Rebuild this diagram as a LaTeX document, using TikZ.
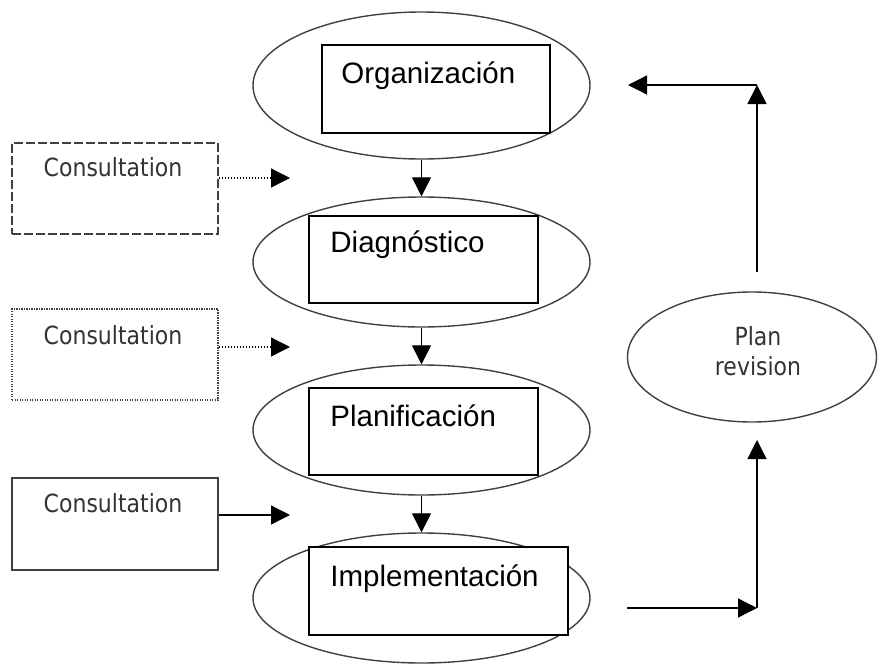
\documentclass[tikz,border=0pt]{standalone}
\usepackage{fontspec}
\setmainfont{Liberation Sans}
\newfontfamily\consfont{DejaVu Sans}[FakeStretch=0.88]
\usetikzlibrary{shapes.geometric,arrows.meta}
\definecolor{stroke}{HTML}{404040}
\definecolor{constext}{HTML}{333333}
\tikzset{
  stage/.style={ellipse, draw=stroke, line width=1.4pt, minimum width=337pt, inner sep=0pt},
  inbox/.style={rectangle, draw=black, line width=1.6pt, fill=white, inner sep=0pt},
  lbl/.style={anchor=base west, inner sep=0pt, font=\fontsize{29.5}{34}\selectfont},
  consbox/.style={rectangle, draw=stroke, line width=1.4pt, minimum width=206pt, inner sep=0pt},
  constxt/.style={anchor=base, inner sep=0pt, text=constext, font=\consfont\fontsize{25}{30}\selectfont},
  arr/.style={draw=black, line width=1.3pt, -{Triangle[length=19pt,width=19pt]}},
  dashbox/.style={dash pattern=on 9pt off 3pt},
  dotbox/.style={dash pattern=on 1.3pt off 1.2pt},
  dotline/.style={dash pattern=on 1.5pt off 1.5pt}
}
\begin{document}
\begin{tikzpicture}[x=1pt,y=1pt]
\useasboundingbox (0,0) rectangle (878,-664);
% stages
\node[stage, minimum height=147pt] (e1) at (421.5,-85.5) {};
\node[stage, minimum height=130pt] (e2) at (421.5,-262) {};
\node[stage, minimum height=130pt] (e3) at (421.5,-430) {};
\node[stage, minimum height=130pt] (e4) at (421.5,-598) {};
% inner boxes
\node[inbox, minimum width=228pt, minimum height=88pt] (r1) at (436,-89) {};
\node[inbox, minimum width=229pt, minimum height=87pt] (r2) at (423.5,-259.5) {};
\node[inbox, minimum width=229pt, minimum height=87pt] (r3) at (423.5,-431.5) {};
\node[inbox, minimum width=259pt, minimum height=88pt] (r4) at (438.5,-591) {};
\node[lbl] (t1) at ([shift={(20,-39)}]r1.north west) {Organización};
\node[lbl] (t2) at ([shift={(22,-37)}]r2.north west) {Diagnóstico};
\node[lbl] (t3) at ([shift={(22,-39)}]r3.north west) {Planificación};
\node[lbl] (t4) at ([shift={(22,-40)}]r4.north west) {Implementación};
% vertical flow
\draw[arr] (e1.south) -- (e2.north);
\draw[arr] (e2.south) -- (e3.north);
\draw[arr] (e3.south) -- (e4.north);
% consultation boxes
\node[consbox, dashbox, minimum height=91pt] (c1) at (115,-188.5) {};
\node[consbox, dotbox, minimum height=91pt] (c2) at (115,-354.5) {};
\node[consbox, minimum height=92pt] (c3) at (115,-524) {};
\node[constxt] (ct1) at ([shift={(-2,-34)}]c1.north) {Consultation};
\node[constxt] (ct2) at ([shift={(-2,-36)}]c2.north) {Consultation};
\node[constxt] (ct3) at ([shift={(-2,-35)}]c3.north) {Consultation};
\coordinate (k1) at (290,-178);
\coordinate (k2) at (290,-347);
\coordinate (k3) at (290,-515);
\draw[arr, dotline] (c1.east |- k1) -- (k1);
\draw[arr, dotline] (c2.east |- k2) -- (k2);
\draw[arr] (c3.east |- k3) -- (k3);
% plan revision
\node[ellipse, draw=stroke, line width=1.4pt, minimum width=249pt, minimum height=130pt, inner sep=0pt] (pr) at (752,-357) {};
\node[constxt] (pt1) at ([shift={(6,12)}]pr.center) {Plan};
\node[constxt] (pt2) at ([shift={(6,-18)}]pr.center) {revision};
% feedback loop
\coordinate (b0) at (627,-608);
\coordinate (b1) at (757,-608);
\coordinate (b2) at (757,-440);
\coordinate (u0) at (757,-272);
\coordinate (u1) at (757,-85);
\coordinate (u2) at (628,-85);
\draw[arr] (b0) -- (b1);
\draw[arr] (b1) -- (b2);
\draw[arr] (u0) -- (u1);
\draw[arr] (u1) -- (u2);
\end{tikzpicture}
\end{document}
